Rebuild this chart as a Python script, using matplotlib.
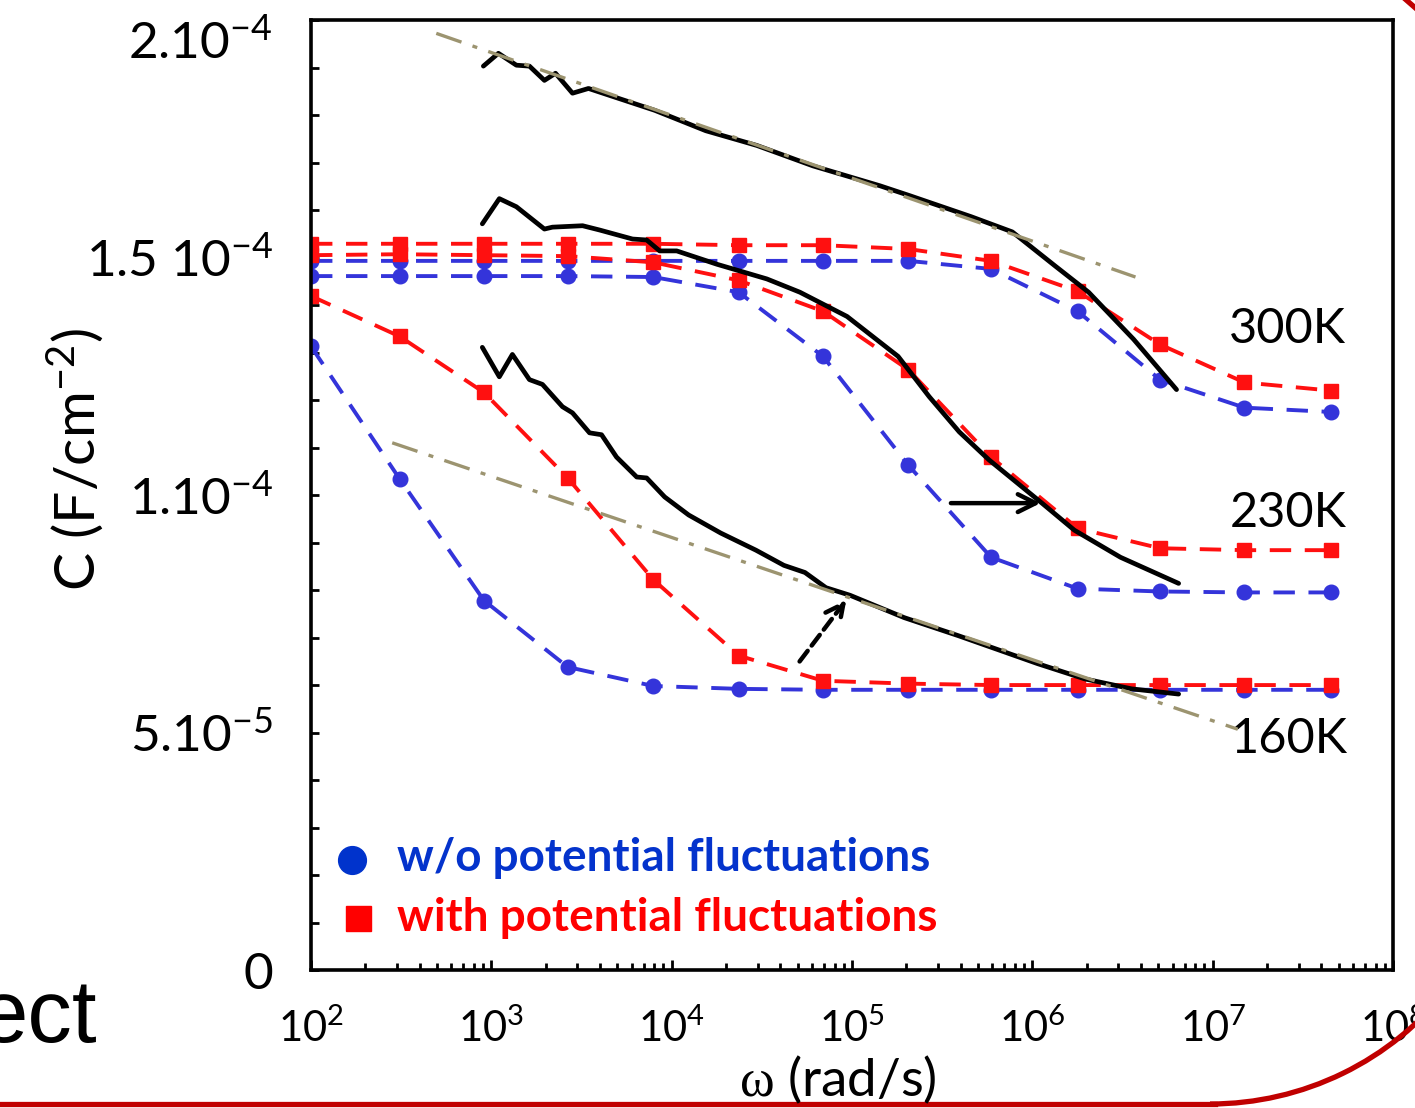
import numpy as np
import matplotlib
matplotlib.use('Agg')
import matplotlib.pyplot as plt
from matplotlib.lines import Line2D
from matplotlib.patches import Arc
from matplotlib.ticker import FixedLocator, NullFormatter

plt.rcParams['font.family'] = ['Lato', 'DejaVu Sans']
plt.rcParams['mathtext.fontset'] = 'custom'
plt.rcParams['mathtext.rm'] = 'Liberation Serif'
plt.rcParams['mathtext.default'] = 'regular'

# ---------------------------
# Data (C in units of 1e-5 F/cm^2, omega in rad/s)
# ---------------------------
omega_sim = [1.0e2, 3.1e2, 9.1e2, 2.65e3, 7.9e3, 2.35e4, 6.9e4, 2.05e5, 5.9e5, 1.78e6, 5.1e6, 1.5e7, 4.5e7]

c300_without = [14.93, 14.93, 14.93, 14.93, 14.93, 14.93, 14.93, 14.93, 14.76, 13.87, 12.43, 11.84, 11.75]
c300_with = [15.29, 15.29, 15.29, 15.29, 15.29, 15.26, 15.26, 15.18, 14.93, 14.29, 13.17, 12.37, 12.20]
c230_without = [14.61, 14.61, 14.61, 14.61, 14.59, 14.27, 12.92, 10.63, 8.69, 8.03, 7.97, 7.95, 7.95]
c230_with = [15.05, 15.07, 15.05, 15.03, 14.90, 14.52, 13.87, 12.64, 10.80, 9.30, 8.88, 8.84, 8.84]
c160_without = [13.13, 10.34, 7.78, 6.38, 5.98, 5.92, 5.90, 5.90, 5.90, 5.90, 5.90, 5.90, 5.90]
c160_with = [14.19, 13.34, 12.16, 10.36, 8.22, 6.62, 6.09, 6.03, 6.00, 6.00, 6.00, 6.00, 6.00]

# measured curves
w300 = [903, 1094, 1376, 1626, 1969, 2268, 2818, 3457, 8050, 1.545e4, 2.965e4, 6.07e4,
        1.431e5, 2.1e5, 4.58e5, 7.74e5, 1.34e6, 2.05e6, 3.64e6, 6.3e6]
c300_exp = [19.03, 19.30, 19.05, 19.03, 18.73, 18.88, 18.46, 18.56, 18.10, 17.67, 17.36, 16.93,
            16.51, 16.30, 15.86, 15.54, 14.82, 14.27, 13.28, 12.22]

w230 = [891, 1107, 1376, 1969, 2182, 3206, 3981, 6067, 7263, 8576, 1.066e4, 1.778e4, 3.37e4,
        5.14e4, 9.38e4, 1.8e5, 2.68e5, 3.93e5, 5.75e5, 1.13e6, 1.71e6, 3.08e6, 6.47e6]
c230_exp = [15.71, 16.24, 16.07, 15.60, 15.64, 15.67, 15.58, 15.39, 15.37, 15.14, 15.14, 14.86, 14.55,
            14.27, 13.76, 12.92, 12.07, 11.33, 10.74, 9.83, 9.26, 8.69, 8.14]

w160 = [891, 1107, 1308, 1626, 1919, 2479, 2818, 3502, 4083, 4943, 6397, 7263, 9144, 1.242e4,
        1.87e4, 2.93e4, 4.19e4, 5.48e4, 7.17e4, 9.75e4, 1.945e5, 3.88e5, 6.73e5, 1.07e6, 1.95e6,
        3.55e6, 6.47e6]
c160_exp = [13.11, 12.49, 12.96, 12.43, 12.33, 11.86, 11.73, 11.31, 11.27, 10.80, 10.38, 10.36, 9.96,
            9.58, 9.20, 8.84, 8.52, 8.37, 8.05, 7.89, 7.42, 7.04, 6.72, 6.45, 6.13, 5.92, 5.81]

# straight guide lines (dash-dot)
fit300_w = [495, 3.73e6]
fit300_c = [19.72, 14.59]
fit160_w = [282, 1.377e7]
fit160_c = [11.10, 5.07]

# arrows (start, end)
arrow230_w = [3.41e5, 1.15e6]
arrow230_c = [9.83, 9.83]
arrow160_w = [5.01e4, 9.5e4]
arrow160_c = [6.45, 7.84]

temp_labels = ['300K', '230K', '160K']
temp_label_w = [2.61e7, 2.63e7, 2.65e7]
temp_label_c = [13.49, 9.62, 4.86]

legend_labels = ['w/o potential fluctuations', 'with potential fluctuations']

ytick_vals = [0, 5, 10, 15]
ytick_text = ['0', '5.10$^{-5}$', '1.10$^{-4}$', '1.5 10$^{-4}$']
xtick_vals = [1e2, 1e3, 1e4, 1e5, 1e6, 1e7, 1e8]
xtick_text = ['10$^{2}$', '10$^{3}$', '10$^{4}$', '10$^{5}$', '10$^{6}$', '10$^{7}$', '10$^{8}$']

BLUE = '#3434DA'
RED = '#FF1010'
KHAKI = '#9C9470'
S = 1e-5


def sc(vals):
    return [v * S for v in vals]


fig = plt.figure(figsize=(14.15, 11.08), dpi=100)
ax = fig.add_axes([0.2198, 0.1245, 0.7647, 0.8574])

dash = (0, (5.5, 3.5))
for cw, cr in [(c300_without, c300_with), (c230_without, c230_with), (c160_without, c160_with)]:
    ax.plot(omega_sim, sc(cw), ls=dash, lw=2.8, color=BLUE, marker='o', ms=10.5,
            mec=BLUE, mfc=BLUE, zorder=2)
    ax.plot(omega_sim, sc(cr), ls=dash, lw=2.8, color=RED, marker='s', ms=10,
            mec=RED, mfc=RED, zorder=2)

for w, c in [(w300, c300_exp), (w230, c230_exp), (w160, c160_exp)]:
    ax.plot(w, sc(c), color='black', lw=3.4, solid_capstyle='round', solid_joinstyle='round',
            zorder=3)

for w, c in [(fit300_w, fit300_c), (fit160_w, fit160_c)]:
    ax.plot(w, sc(c), color=KHAKI, lw=2.4, ls=(0, (8, 3.5, 1.5, 3.5)), zorder=4)

ax.annotate('', xy=(arrow230_w[1], arrow230_c[1] * S), xytext=(arrow230_w[0], arrow230_c[0] * S),
            arrowprops=dict(arrowstyle='->', lw=3.2, color='black', mutation_scale=32), zorder=5)
ax.annotate('', xy=(arrow160_w[1], arrow160_c[1] * S), xytext=(arrow160_w[0], arrow160_c[0] * S),
            arrowprops=dict(arrowstyle='->', lw=3.2, color='black', ls=(0, (3, 1.5)),
                            mutation_scale=32), zorder=5)

for t, w, c in zip(temp_labels, temp_label_w, temp_label_c):
    ax.text(w, c * S, t, fontsize=35, ha='center', va='center')

ax.set_xscale('log')
ax.set_xlim(1e2, 1e8)
ax.set_ylim(0, 2e-4)

ax.set_xticks(xtick_vals)
ax.set_xticklabels(xtick_text, fontsize=30)
ax.xaxis.set_minor_locator(FixedLocator([m * 10 ** e for e in range(2, 8) for m in range(2, 10)]))
ax.xaxis.set_minor_formatter(NullFormatter())

ax.set_yticks(sc(ytick_vals))
ax.set_yticklabels(ytick_text, fontsize=37)
ax.yaxis.set_minor_locator(FixedLocator(sc(list(range(0, 21)))))

ax.tick_params(axis='both', which='both', direction='in', width=2, top=False, right=False)
ax.tick_params(axis='x', which='major', length=7, pad=27)
ax.tick_params(axis='x', which='minor', length=5)
ax.tick_params(axis='y', which='major', length=6, pad=27)
ax.tick_params(axis='y', which='minor', length=6)
for sp in ax.spines.values():
    sp.set_linewidth(2.6)

# top label is drawn lower than its tick in the source
ax.text(-0.0351, 19.51e-5, '2.10$^{-4}$', fontsize=37, ha='right', va='center',
        transform=ax.get_yaxis_transform())

# legend, placed by hand
ax.plot([0.0379], [0.1158], ls='none', marker='o', ms=20, color='#0033CC',
        transform=ax.transAxes, clip_on=False)
ax.plot([0.0434], [0.0547], ls='none', marker='s', ms=18, color='#FF0000',
        transform=ax.transAxes, clip_on=False)
ax.text(0.0795, 0.118, legend_labels[0], fontsize=33, fontweight='bold', color='#0433CC',
        ha='left', va='center', transform=ax.transAxes)
ax.text(0.0795, 0.055, legend_labels[1], fontsize=33, fontweight='bold', color='#FF0000',
        ha='left', va='center', transform=ax.transAxes)

fig.text(75 / 1415, 1 - 460 / 1108, 'C (F/cm$^{-2}$)', fontsize=41, rotation=90,
         ha='center', va='center')
fig.text(838 / 1415, 1 - 1080 / 1108, r'$\mathrm{\omega}$ (rad/s)', fontsize=38,
         ha='center', va='center')

fig.text(97 / 1415, 1 - 1042 / 1108, 'ect', fontsize=64, family='Liberation Sans',
         ha='right', va='baseline')

# slide border pieces
BORDER = '#C00000'
fig.add_artist(Line2D([0, 12.15], [0.04, 0.04], color=BORDER, lw=3.8,
                      transform=fig.dpi_scale_trans))
fig.add_artist(Arc((12.10, 3.07), 6.06, 6.06, theta1=-90, theta2=-38, color=BORDER, lw=3.8,
                   transform=fig.dpi_scale_trans))
fig.add_artist(Line2D([14.04, 14.20], [11.10, 10.96], color=BORDER, lw=3.8,
                      transform=fig.dpi_scale_trans))

fig.savefig('out.png', dpi=100, facecolor='white')
